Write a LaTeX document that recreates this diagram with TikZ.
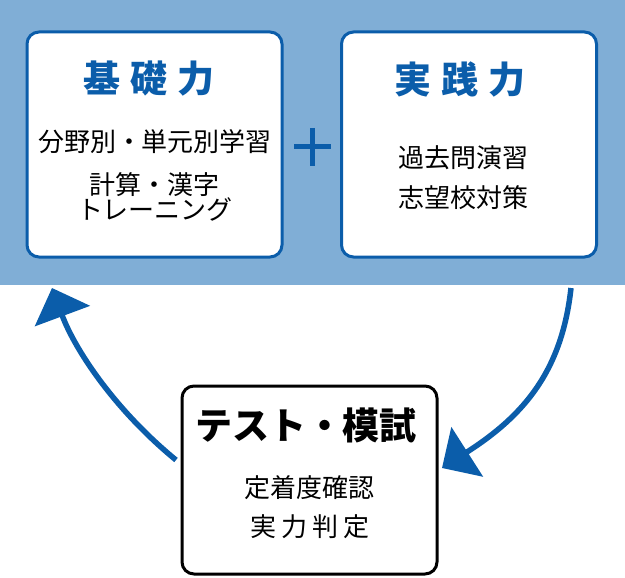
\documentclass[tikz,border=0pt]{standalone}
\usepackage{fontspec}
\newfontfamily\jp{Noto Sans CJK JP}
\usetikzlibrary{arrows.meta}
\definecolor{bgblue}{RGB}{128,174,214}
\definecolor{dblue}{RGB}{11,93,170}
\begin{document}
\begin{tikzpicture}[x=1pt,y=-1pt,
  card/.style={draw=dblue,line width=3pt,fill=white,rounded corners=12pt,minimum width=255pt,minimum height=225pt,inner sep=0pt},
  tcard/.style={draw=black,line width=3pt,fill=white,rounded corners=12pt,minimum width=255pt,minimum height=188pt,inner sep=0pt},
  ttl/.style={font=\jp\bfseries\fontsize{37}{42}\selectfont,text=dblue,inner sep=0pt},
  ttlk/.style={font=\jp\bfseries\fontsize{37}{42}\selectfont,text=black,inner sep=0pt},
  body/.style={font=\jp\fontsize{26}{29}\selectfont,text=black,inner sep=0pt,align=center},
  cyc/.style={draw=dblue,line width=5.5pt,-{Triangle[length=30pt,width=58pt]}}
]
\useasboundingbox (0,0) rectangle (625,578);
\fill[bgblue] (0,0) rectangle (625,285);
\node[card] (kiso) at (154.5,144.5) {};
\node[card] (jissen) at (469,144.5) {};
\node[tcard] (test) at (309.5,480) {};
\node[ttl] (kisot) at (149,79) {基\hspace{10pt}礎\hspace{10pt}力};
\node[body] (kisob1) at (155,142) {分野別・単元別学習};
\node[body] (kisob2) at (155,197) {計算・漢字\\[-4pt]トレーニング};
\node[ttl] (jissent) at (460,79) {実\hspace{10pt}践\hspace{10pt}力};
\node[body] (jissenb1) at (463,158) {過去問演習};
\node[body] (jissenb2) at (463,198) {志望校対策};
\node[ttlk] (testt) at (306,425) {テスト・模試};
\node[body] (testb1) at (309,488) {定着度確認};
\node[body] (testb2) at (310,527) {実\hspace{5pt}力\hspace{5pt}判\hspace{5pt}定};
\draw[dblue,line width=5pt] (294,147) -- (331,147) (312.5,128) -- (312.5,166);
\coordinate (a1s) at (176,460);
\coordinate (a1e) at (52,288);
\coordinate (a2s) at (571,288);
\coordinate (a2e) at (442,468);
\draw[cyc] (a1s) .. controls (115,410) and (75,350) .. (a1e);
\draw[cyc] (a2s) .. controls (562,370) and (525,415) .. (a2e);
\end{tikzpicture}
\end{document}
